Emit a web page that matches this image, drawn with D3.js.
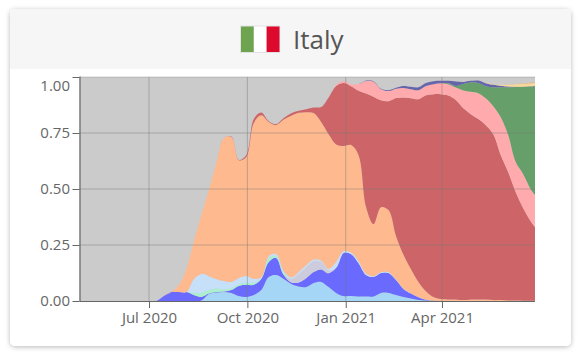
<!DOCTYPE html>
<html>
<head>
<meta charset="utf-8">
<script src="https://cdn.jsdelivr.net/npm/d3@7"></script>
<style>
    html, body { margin: 0; padding: 0; background: #fff; }
    svg { display: block; font-family: "Open Sans", sans-serif; }
</style>
</head>
<body>
<svg id="chart" width="582" height="355"></svg>
<script>
var title = "Italy";

var dates = ["2020-06-24","2020-07-01","2020-07-08","2020-07-15","2020-07-22","2020-07-29","2020-08-05","2020-08-12","2020-08-19","2020-08-26",
    "2020-09-02","2020-09-09","2020-09-16","2020-09-23","2020-09-30","2020-10-07","2020-10-14","2020-10-21","2020-10-28","2020-11-04",
    "2020-11-11","2020-11-18","2020-11-25","2020-12-02","2020-12-09","2020-12-16","2020-12-23","2020-12-30","2021-01-06","2021-01-13",
    "2021-01-20","2021-01-27","2021-02-03","2021-02-10","2021-02-17","2021-02-24","2021-03-03","2021-03-10","2021-03-17","2021-03-24",
    "2021-03-31","2021-04-07","2021-04-14","2021-04-21","2021-04-28","2021-05-05","2021-05-12","2021-05-19","2021-05-26","2021-06-02",
    "2021-06-09","2021-06-16","2021-06-23","2021-06-27"];

// share of sequences per variant, in percent
var lightBlue = [0,0,0,0,0,0,0,0,0.2,3.1, 3.8,4.0,3.6,2.2,1.8,2.7,4.9,10.7,11.6,9.8, 7.6,6.5,6.2,8.0,8.5,6.2,3.6,2.2,2.2,2.0, 2.0,2.0,3.6,3.6,2.7,1.8,1.1,0.4,0.2,0.1, 0,0,0,0,0,0,0,0,0,0, 0,0,0,0];
var blue = [0,0,0,2.2,4.0,4.0,4.0,2.7,1.6,0.2, 0.2,0.2,1.3,4.5,5.4,4.5,4.9,6.7,7.6,1.8, 0.7,1.8,4.0,4.9,5.6,6.2,11.2,19.2,18.7,14.9, 9.6,8.7,8.9,8.9,6.7,3.6,2.2,1.3,0.4,0.1, 0,0,0,0,0,0,0,0,0,0, 0,0,0,0];
var lavender = [0,0,0,0,0,0,0,0,0,0, 0,0,0,0,0,0,0,0,0,0, 1.6,3.8,4.9,4.9,3.3,1.3,0,0,0,0, 0,0,0,0,0,0,0,0,0,0, 0,0,0,0,0,0,0,0,0,0, 0,0,0,0];
var mint = [0,0,0,0,0,0,0,0.9,1.8,1.6, 1.6,0.9,0.9,0.7,0.9,0.9,0.4,1.8,0.9,0.9, 0,0,0,0,0,0,0,0,0,0, 0,0,0,0,0,0,0,0,0,0, 0,0,0,0,0,0,0,0,0,0, 0,0,0,0];
var paleBlue = [0,0,0,0,0,0,0,6.2,8.5,6.2, 4.2,3.8,2.7,2.9,3.1,1.8,0.4,0.9,0.9,0.9, 0.7,0.9,0.9,0.7,0.7,0.7,2.7,0.9,0.7,0.9, 0.7,0.4,0.4,0.4,0.2,0.2,0.2,0.1,0,0, 0,0,0,0,0,0,0,0,0,0, 0,0,0,0];
var orange = [0,0,0,0,0,3.1,10.3,17.0,26.3,38.4, 51.8,63.8,64.7,52.5,53.1,69.6,72.3,59.8,57.6,67.6, 72.1,71.0,68.3,65.4,61.8,60.0,52.4,46.9,48.0,47.3, 29.7,23.2,29.0,27.7,19.4,15.0,10.7,6.7,3.8,1.6, 0.9,0.7,0.7,0.4,0.7,0.7,0.7,0.4,0.4,0.2, 0.2,0.1,0.1,0.1];
var red = [0,0,0,0,0,0,0,0,0,0, 0,0,0.2,0.2,0.9,1.8,1.3,0.4,0.4,0.7, 1.1,0.9,1.3,2.5,6.7,16.5,26.1,28.1,26.3,28.8, 50.6,56.9,47.7,48.6,61.6,70.3,76.3,81.6,87.4,90.5, 91.4,91.0,89.0,85.6,82.7,80.5,77.8,74.0,64.7,57.3, 48.4,41.3,35.5,32.9];
var pink = [0,0,0,0,0,0,0,0,0,0, 0,0,0,0,0,0,0,0,0,0, 0,0,0,0,0,0,0.4,0.9,0.9,2.9, 5.6,6.7,4.9,4.5,4.2,4.2,4.0,4.0,4.2,4.5, 4.9,5.1,5.6,8.0,10.0,11.6,12.0,12.5,16.9,16.5, 13.4,15.2,14.3,14.3];
var green = [0,0,0,0,0,0,0,0,0,0, 0,0,0,0,0,0,0,0,0,0, 0,0,0,0,0,0,0,0,0,0, 0,0,0,0,0,0,0,0,0,0, 0,0.4,0.7,2.9,4.2,4.5,5.4,8.5,13.4,21.4, 33.5,39.0,45.9,48.6];
var purple = [0,0,0,0,0,0,0,0,0,0, 0,0,0,0,0,0,0,0,0,0, 0,0,0,0,0,0,0,0,0,0, 0.2,0.2,0.2,0.4,0.4,0.9,1.1,1.3,1.3,1.3, 1.1,1.1,2.0,0.9,0.7,1.1,1.3,1.1,0.7,0.4, 0.2,0.1,0.1,0.1];
var yellow = [0,0,0,0,0,0,0,0,0,0, 0,0,0,0,0,0,0,0,0,0, 0,0,0,0,0,0,0,0,0,0, 0,0,0,0,0,0,0,0,0,0, 0,0,0,0,0,0,0.1,0.2,0.4,0.7, 1.1,1.3,1.3,1.3];
var darkOrange = [0,0,0,0,0,0,0,0,0,0, 0,0,0,0,0,0,0,0,0,0, 0,0,0,0,0,0,0,0,0,0, 0,0,0,0,0,0,0,0,0,0, 0,0,0,0,0,0,0,0,0,0, 0,0.1,0.2,0.2];

var seriesNames = ["lightBlue","blue","lavender","mint","paleBlue","orange","red","pink","green","purple","yellow","darkOrange"];
var seriesValues = [lightBlue,blue,lavender,mint,paleBlue,orange,red,pink,green,purple,yellow,darkOrange];
var seriesColors = ["#a6d6f5","#6a6aff","#ccccdd","#aaf0cf","#c6e0fa","#ffb98e","#cd6568","#ffabae","#669f69","#6565aa","#f8d79a","#f0a868"];

var xTicks = ["2020-07-01","2020-10-01","2021-01-01","2021-04-01"];
var yTicks = [0, 0.25, 0.5, 0.75, 1];
var xStart = "2020-04-27", xEnd = "2021-06-27";

var parseDate = d3.utcParse("%Y-%m-%d");
var svg = d3.select("#chart");

// card
var defs = svg.append("defs");
var shadow = defs.append("filter").attr("id", "shadow")
    .attr("x", "-5%").attr("y", "-5%").attr("width", "110%").attr("height", "110%");
shadow.append("feDropShadow")
    .attr("dx", 0).attr("dy", 1).attr("stdDeviation", 2.5)
    .attr("flood-color", "#000").attr("flood-opacity", 0.28);
defs.append("clipPath").attr("id", "plot-clip")
    .append("rect").attr("x", 79.5).attr("y", 77).attr("width", 455.5).attr("height", 224);

svg.append("rect")
    .attr("x", 10).attr("y", 9).attr("width", 561).attr("height", 337).attr("rx", 5)
    .attr("fill", "#fff").attr("filter", "url(#shadow)");
svg.append("path")
    .attr("d", "M10,69V14a5,5 0 0 1 5,-5H566a5,5 0 0 1 5,5V69Z")
    .attr("fill", "#f6f6f6");

// flag
var flagColors = ["#6ea44f", "#ffffff", "#dc0a2d"];
svg.append("rect").attr("x", 240).attr("y", 25.5).attr("width", 40).attr("height", 27.5).attr("fill", "#e2e2e2");
svg.selectAll("rect.flag")
    .data(flagColors)
    .enter()
    .append("rect")
    .classed("flag", true)
    .attr("x", function(d, i) { return 241 + i * 12.8; })
    .attr("y", 26.5)
    .attr("width", 12.9)
    .attr("height", 25.5)
    .attr("fill", function(d) { return d; });

svg.append("text")
    .attr("x", 293).attr("y", 48.5)
    .attr("font-size", 26)
    .attr("fill", "#555")
    .text(title);

// plot
var x = d3.scaleUtc()
    .domain([parseDate(xStart), parseDate(xEnd)])
    .range([79.5, 535]);
var y = d3.scaleLinear()
    .domain([0, 1])
    .range([301, 77]);

svg.append("rect")
    .attr("x", 79.5).attr("y", 77).attr("width", 455.5).attr("height", 224)
    .attr("fill", "#cbcbcb");

var rows = dates.map(function(d, i) {
    var row = { date: parseDate(d) };
    seriesNames.forEach(function(name, s) { row[name] = seriesValues[s][i] / 100; });
    return row;
});

var stacked = d3.stack().keys(seriesNames)(rows);

var area = d3.area()
    .x(function(d) { return x(d.data.date); })
    .y0(function(d) { return y(d[0]); })
    .y1(function(d) { return y(d[1]); })
    .curve(d3.curveCatmullRom.alpha(0.5));

svg.append("g")
    .attr("clip-path", "url(#plot-clip)")
    .selectAll("path")
    .data(stacked)
    .enter()
    .append("path")
    .attr("d", area)
    .attr("fill", function(d, i) { return seriesColors[i]; });

// grid sits on top of the areas
var grid = svg.append("g")
    .attr("stroke", "#777")
    .attr("stroke-opacity", 0.45);
grid.selectAll("line.gx")
    .data(xTicks)
    .enter()
    .append("line")
    .classed("gx", true)
    .attr("x1", function(d) { return x(parseDate(d)); })
    .attr("x2", function(d) { return x(parseDate(d)); })
    .attr("y1", y(1))
    .attr("y2", y(0));
grid.selectAll("line.gy")
    .data(yTicks.slice(1))
    .enter()
    .append("line")
    .classed("gy", true)
    .attr("x1", x.range()[0])
    .attr("x2", x.range()[1])
    .attr("y1", function(d) { return y(d); })
    .attr("y2", function(d) { return y(d); })
    .attr("stroke-opacity", function(d) { return d === 1 ? 0.35 : 0.45; });

var xAxis = svg.append("g")
    .attr("transform", "translate(0,301)")
    .call(d3.axisBottom(x)
        .tickValues(xTicks.map(parseDate))
        .tickSize(7)
        .tickPadding(4)
        .tickFormat(d3.utcFormat("%b %Y")));

var yAxis = svg.append("g")
    .attr("transform", "translate(79.5,0)")
    .call(d3.axisLeft(y)
        .tickValues(yTicks)
        .tickSize(7)
        .tickPadding(2.5)
        .tickFormat(d3.format(".2f")));

[xAxis, yAxis].forEach(function(axis) {
    axis.attr("font-family", null).attr("font-size", null);
    axis.selectAll("path").attr("stroke", "#666").attr("stroke-width", 1.2);
    axis.selectAll("line").attr("stroke", "#666");
    axis.selectAll("text")
        .attr("fill", "#666")
        .attr("font-size", 15);
});
xAxis.select(".domain").attr("d", "M79.5,0.5H535");
yAxis.select(".domain").attr("d", "M0.5,76.5V301");

// the top label is pushed down so it stays inside the card body
yAxis.selectAll(".tick text")
    .filter(function(d) { return d === 1; })
    .attr("dy", "0.92em");
</script>
</body>
</html>
